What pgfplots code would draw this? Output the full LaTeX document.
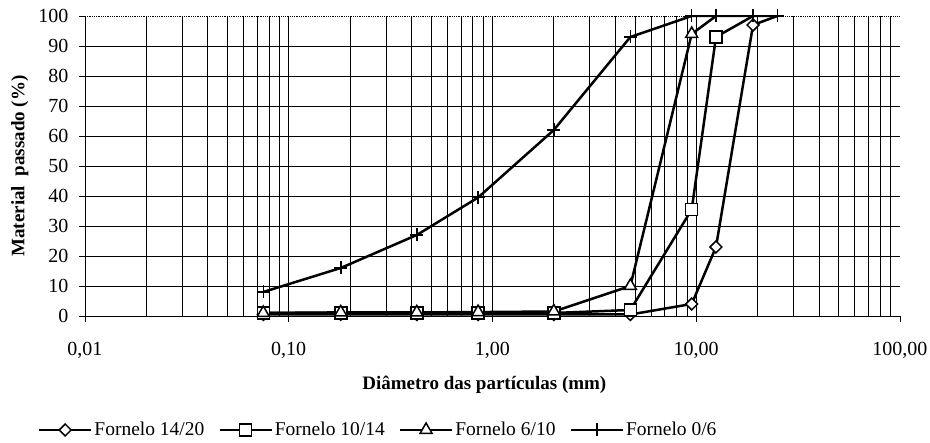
\documentclass[border=0pt]{standalone}
\usepackage{fontspec}
\setmainfont{Liberation Serif}
\usepackage{pgfplots}
\pgfplotsset{compat=1.18}
\begin{document}
\fontsize{19}{22}\selectfont
\begin{tikzpicture}[x=1pt,y=1pt]
\useasboundingbox (0,0) rectangle (930,443);
\begin{axis}[
  at={(85pt,127pt)}, anchor=south west,
  scale only axis, width=815pt, height=300pt,
  xmode=log, log basis x=10,
  xmin=0.01, xmax=100, ymin=0, ymax=100,
  axis x line*=bottom, axis y line*=left,
  axis line style={black, line width=0.9pt},
  xtick={0.01,0.1,1,10,100},
  xticklabels={{0,01},{0,10},{1,00},{10,00},{100,00}},
  minor xtick={0.02,0.03,0.04,0.05,0.06,0.07,0.08,0.09,0.1,0.2,0.3,0.4,0.5,0.6,0.7,0.8,0.9,1,2,3,4,5,6,7,8,9,10,20,30,40,50,60,70,80,90},
  ytick={0,10,...,90},
  extra y ticks={100},
  extra y tick style={grid style={black, line width=0.8pt, densely dotted}},
  xmajorgrids=false, xminorgrids, ymajorgrids,
  grid style={black, line width=0.8pt},
  minor grid style={black, line width=0.8pt},
  tick align=outside, major tick length=6pt, minor tick length=0pt,
  tick style={black, line width=0.9pt},
  ticklabel style={font=\fontsize{20}{23}\selectfont},
  /pgf/number format/assume math mode=true,
  xticklabel style={yshift=-14pt},
  yticklabel style={xshift=-4pt},
  xlabel={\textbf{Diâmetro das partículas (mm)}},
  ylabel={\textbf{Material\ \ passado (\%)}},
  xlabel style={at={(axis description cs:0.49,-0.23)}, anchor=center, font=\fontsize{19}{22}\selectfont},
  ylabel style={at={(axis description cs:-0.08,0.5)}, anchor=center, font=\fontsize{19}{22}\selectfont},
  legend columns=4,
  legend style={draw=none, fill=none, at={(axis description cs:-0.058,-0.38)}, anchor=west,
    font=\fontsize{19.5}{22}\selectfont, inner sep=0pt,
    /tikz/every even column/.append style={column sep=12pt},
    nodes={inner sep=2pt}},
  legend image code/.code={\draw[#1, mark repeat=2, mark phase=2] plot coordinates {(0pt,0pt) (26pt,0pt) (52pt,0pt)};},
  every axis plot/.append style={black, line width=2.5pt},
]
% Fornelo 14/20
\addplot[mark=square*, mark size=4.2pt, mark options={rotate=45, fill=white, line width=1.5pt, solid}]
  coordinates {(0.075,0.5) (0.18,0.5) (0.425,0.5) (0.85,0.5) (2.0,0.5) (4.75,0.5) (9.5,4) (12.5,23) (19,97)};
\addlegendentry{Fornelo 14/20}
% Fornelo 10/14
\addplot[mark=square*, mark size=6pt, mark options={fill=white, line width=1.5pt, solid}]
  coordinates {(0.075,1) (0.18,1) (0.425,1) (0.85,1) (2.0,1) (4.75,2) (9.5,35.5) (12.5,93)};
\addlegendentry{Fornelo 10/14}
% Fornelo 6/10
\addplot[mark=triangle*, mark size=7pt, mark options={fill=white, line width=1.5pt, solid}]
  coordinates {(0.075,1) (0.18,1.2) (0.425,1.2) (0.85,1.3) (2.0,1.5) (4.75,10) (9.5,94)};
\addlegendentry{Fornelo 6/10}
% Fornelo 0/6
\addplot[mark=+, mark size=6.5pt, mark options={line width=1.5pt, solid}]
  coordinates {(0.075,8) (0.18,16) (0.425,27) (0.85,39.5) (2.0,62) (4.75,93) (9.5,100) (12.5,100) (19,100) (25,100)};
\addlegendentry{Fornelo 0/6}
% final segments without markers
\addplot[forget plot, no marks] coordinates {(19,97) (25,100)};
\addplot[forget plot, no marks] coordinates {(12.5,93) (19,100)};
\addplot[forget plot, no marks] coordinates {(9.5,94) (12.5,100)};
\end{axis}
\end{tikzpicture}
\end{document}
